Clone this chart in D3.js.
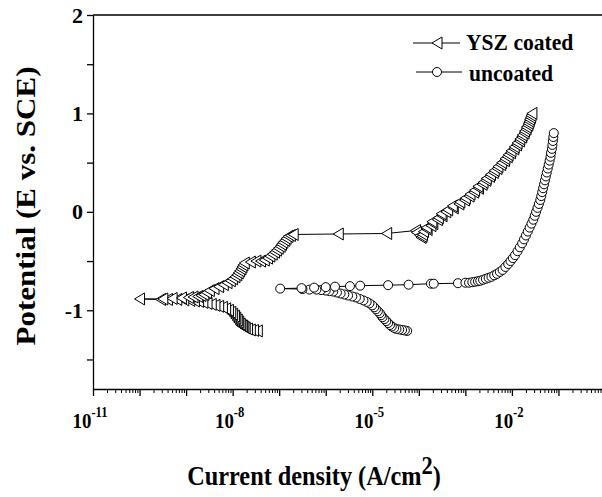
<!DOCTYPE html>
<html>
<head>
<meta charset="utf-8">
<script src="https://cdn.jsdelivr.net/npm/d3@7"></script>
<style>
body { margin: 0; background: #fff; }
text { font-family: "Liberation Serif", "Times New Roman", serif; font-weight: bold; fill: #000; }
</style>
</head>
<body>
<script>
// YSZ coated: potential (V vs SCE) and current density (A/cm2), in scan order
var yszE = [-1.21,-1.205,-1.20,-1.19,-1.18,-1.17,-1.16,-1.15,-1.14,-1.12,-1.10,-1.08,-1.06,-1.04,-1.02,-1.00,-0.985,-0.97,-0.96,-0.95,
  -0.94,-0.93,-0.92,-0.91,-0.905,-0.90,-0.895,-0.89,-0.89,-0.89,-0.885,
  -0.885,-0.88,-0.875,-0.87,-0.865,-0.86,-0.85,-0.84,-0.82,-0.80,-0.78,-0.76,-0.74,-0.72,-0.70,-0.68,-0.66,-0.64,-0.62,-0.60,
  -0.58,-0.56,-0.54,-0.52,-0.51,-0.50,-0.50,-0.49,-0.47,-0.45,-0.43,-0.41,-0.39,-0.37,-0.35,-0.33,-0.31,-0.29,-0.27,-0.25,
  -0.24,-0.23,-0.225,-0.22,-0.19,-0.21,-0.24,-0.26,-0.25,-0.23,-0.20,-0.18,-0.16,-0.14,-0.12,-0.10,-0.08,-0.06,-0.04,-0.02,
  0.00,0.02,0.04,0.06,0.08,0.10,0.12,0.14,0.16,0.18,0.20,0.22,0.24,0.26,0.28,0.30,0.32,0.34,0.36,0.38,
  0.40,0.42,0.44,0.46,0.48,0.50,0.52,0.54,0.56,0.58,0.60,0.62,0.64,0.66,0.68,0.70,0.72,0.74,0.76,0.78,
  0.80,0.82,0.84,0.86,0.88,0.90,0.92,0.94,0.96,0.98,1.00];
var yszI = [3.39e-8,2.82e-8,2.40e-8,2.09e-8,1.86e-8,1.74e-8,1.62e-8,1.51e-8,1.45e-8,1.35e-8,1.26e-8,1.17e-8,1.10e-8,1.00e-8,9.12e-9,8.13e-9,7.08e-9,6.03e-9,5.01e-9,4.17e-9,
  3.47e-9,2.82e-9,2.29e-9,1.86e-9,1.51e-9,1.20e-9,8.91e-10,6.31e-10,3.98e-10,2.82e-10,1.0e-10,
  3.16e-10,5.01e-10,7.94e-10,1.12e-9,1.41e-9,1.78e-9,2.09e-9,2.40e-9,2.75e-9,3.16e-9,3.98e-9,5.01e-9,6.31e-9,7.59e-9,8.91e-9,1.00e-8,1.12e-8,1.23e-8,1.32e-8,1.41e-8,
  1.51e-8,1.58e-8,1.66e-8,1.78e-8,2.40e-8,3.16e-8,3.98e-8,4.79e-8,5.62e-8,6.31e-8,7.08e-8,7.94e-8,8.71e-8,9.55e-8,1.05e-7,1.12e-7,1.20e-7,1.32e-7,1.41e-7,1.55e-7,
  1.74e-7,2.00e-7,1.86e-6,2.04e-5,8.51e-5,8.91e-5,1.05e-4,1.12e-4,1.17e-4,1.20e-4,1.26e-4,1.51e-4,1.45e-4,1.82e-4,2.00e-4,1.91e-4,2.51e-4,2.63e-4,3.16e-4,3.02e-4,
  3.80e-4,4.17e-4,5.50e-4,5.25e-4,7.24e-4,7.59e-4,9.55e-4,1.00e-3,1.20e-3,1.26e-3,1.51e-3,1.58e-3,1.91e-3,1.86e-3,2.29e-3,2.40e-3,2.75e-3,2.82e-3,3.31e-3,3.47e-3,
  3.98e-3,4.17e-3,4.79e-3,5.01e-3,5.75e-3,6.03e-3,6.92e-3,7.08e-3,7.94e-3,8.32e-3,9.33e-3,9.55e-3,1.10e-2,1.12e-2,1.26e-2,1.29e-2,1.45e-2,1.48e-2,1.62e-2,1.66e-2,
  1.82e-2,1.86e-2,2.00e-2,2.04e-2,2.19e-2,2.24e-2,2.34e-2,2.40e-2,2.51e-2,2.57e-2,2.69e-2];

// uncoated
var uncE = [-1.21,-1.205,-1.20,-1.195,-1.19,-1.18,-1.165,-1.15,-1.13,-1.11,-1.09,-1.07,-1.05,-1.03,-1.01,-0.99,-0.97,-0.95,-0.93,-0.915,
  -0.90,-0.885,-0.87,-0.86,-0.85,-0.84,-0.83,-0.82,-0.81,-0.805,-0.80,-0.795,-0.79,-0.79,-0.785,-0.78,
  -0.775,-0.77,-0.765,-0.76,-0.755,-0.75,-0.745,-0.74,-0.73,-0.73,-0.725,-0.72,-0.72,-0.715,-0.71,-0.705,-0.70,-0.69,-0.68,-0.67,
  -0.66,-0.645,-0.63,-0.61,-0.59,-0.56,-0.53,-0.50,-0.47,-0.44,-0.40,-0.36,-0.32,-0.28,-0.24,-0.20,-0.16,-0.12,-0.08,-0.04,
  0.00,0.04,0.08,0.12,0.16,0.20,0.24,0.28,0.32,0.36,0.40,0.44,0.48,0.52,0.56,0.60,0.64,0.68,0.72,0.76,0.80];
var uncI = [5.62e-5,5.01e-5,4.37e-5,3.80e-5,3.31e-5,2.95e-5,2.63e-5,2.40e-5,2.19e-5,2.00e-5,1.82e-5,1.66e-5,1.55e-5,1.45e-5,1.32e-5,1.20e-5,1.10e-5,1.00e-5,8.71e-6,7.59e-6,
  6.46e-6,5.37e-6,4.47e-6,3.72e-6,3.02e-6,2.51e-6,2.09e-6,1.74e-6,1.45e-6,1.20e-6,1.00e-6,7.94e-7,6.31e-7,4.47e-7,3.16e-7,1.05e-7,
  3.02e-7,5.62e-7,1.00e-6,1.58e-6,3.31e-6,5.50e-6,2.19e-5,6.03e-5,1.82e-4,2.09e-4,6.92e-4,1.00e-3,1.20e-3,1.41e-3,1.62e-3,1.86e-3,2.09e-3,2.40e-3,2.75e-3,3.16e-3,
  3.63e-3,4.17e-3,4.79e-3,5.50e-3,6.31e-3,7.24e-3,8.32e-3,9.33e-3,1.05e-2,1.17e-2,1.32e-2,1.48e-2,1.66e-2,1.82e-2,2.00e-2,2.19e-2,2.40e-2,2.63e-2,2.88e-2,3.09e-2,
  3.31e-2,3.55e-2,3.80e-2,4.07e-2,4.27e-2,4.47e-2,4.68e-2,4.90e-2,5.13e-2,5.37e-2,5.62e-2,5.89e-2,6.17e-2,6.46e-2,6.76e-2,6.92e-2,7.24e-2,7.41e-2,7.59e-2,7.76e-2,7.94e-2];

var xLabelExps = [-11, -8, -5, -2];
var yLabels = [-1, 0, 1, 2];
var seriesNames = ["YSZ coated", "uncoated"];

var width = 602, height = 497;
var squeeze = 0.9; // text in the figure is a bit narrow
var svg = d3.select("body").append("svg")
    .attr("width", width)
    .attr("height", height);

var x = d3.scaleLog().domain([1e-11, 1]).range([93, 605]);
var y = d3.scaleLinear().domain([-1.8, 2]).range([389, 15]);

// x axis: major decade ticks + minor ticks
var majors = d3.range(-11, 1).map(function(e){ return Math.pow(10, e); });
var minors = [];
d3.range(-11, 0).forEach(function(e){
    d3.range(2, 10).forEach(function(k){ minors.push(k * Math.pow(10, e)); });
});

svg.append("g")
    .attr("transform", "translate(0,389)")
    .call(d3.axisBottom(x).tickValues(minors).tickSize(4).tickFormat(""))
    .call(function(g){ g.select(".domain").remove(); });
svg.append("g")
    .attr("transform", "translate(0,389)")
    .call(d3.axisBottom(x).tickValues(majors).tickSize(7).tickSizeOuter(0).tickFormat(""))
    .call(function(g){ g.selectAll("path,line").attr("stroke-width", 1.3); });

var xl = svg.append("g").selectAll("text")
    .data(xLabelExps).enter().append("text")
    .attr("transform", function(d){ return "translate(" + (x(Math.pow(10, d)) - 3) + ",428) scale(" + squeeze + ",1)"; })
    .attr("text-anchor", "middle")
    .style("font-size", "21px");
xl.append("tspan").text("10");
xl.append("tspan").attr("dy", -11).style("font-size", "14px").text(function(d){ return d; });

// y axis
svg.append("g")
    .attr("transform", "translate(93,0)")
    .call(d3.axisLeft(y).tickValues([-1.5, -1, -0.5, 0, 0.5, 1, 1.5, 2]).tickSize(6).tickSizeOuter(0)
        .tickPadding(4)
        .tickFormat(function(d){ return yLabels.indexOf(d) >= 0 ? d : ""; }))
    .call(function(g){
        g.attr("font-family", null).attr("font-size", null);
        g.selectAll("path,line").attr("stroke-width", 1.3);
        g.selectAll("text").style("font-size", "22px");
    });

// top frame line
svg.append("line")
    .attr("x1", 93).attr("x2", width)
    .attr("y1", 15).attr("y2", 15)
    .attr("stroke", "#000").attr("stroke-width", 1.5);

// titles
var xt = svg.append("text")
    .attr("transform", "translate(314,485) scale(" + squeeze + ",1)")
    .attr("text-anchor", "middle")
    .style("font-size", "27px");
xt.append("tspan").text("Current density (A/cm");
xt.append("tspan").attr("dy", -11).style("font-size", "25px").text("2");
xt.append("tspan").attr("dy", 11).text(")");

svg.append("text")
    .attr("transform", "translate(35,206) rotate(-90) scale(1," + squeeze + ")")
    .attr("text-anchor", "middle")
    .style("font-size", "31px")
    .text("Potential (E vs. SCE)");

// series
var triPath = "M-5,0L5,-6L5,6Z";
var line = d3.line()
    .x(function(d){ return x(d.i); })
    .y(function(d){ return y(d.e); });

var ysz = yszE.map(function(e, k){ return {e: e, i: yszI[k]}; });
var unc = uncE.map(function(e, k){ return {e: e, i: uncI[k]}; });

svg.append("path").datum(unc)
    .attr("d", line).attr("fill", "none").attr("stroke", "#000").attr("stroke-width", 1);
svg.append("g").selectAll("circle")
    .data(unc).enter().append("circle")
    .attr("cx", function(d){ return x(d.i); })
    .attr("cy", function(d){ return y(d.e); })
    .attr("r", 4.5)
    .attr("fill", "#fff").attr("stroke", "#000").attr("stroke-width", 1);

svg.append("path").datum(ysz)
    .attr("d", line).attr("fill", "none").attr("stroke", "#000").attr("stroke-width", 1);
svg.append("g").selectAll("path")
    .data(ysz).enter().append("path")
    .attr("d", triPath)
    .attr("transform", function(d){ return "translate(" + x(d.i) + "," + y(d.e) + ")"; })
    .attr("fill", "#fff").attr("stroke", "#000").attr("stroke-width", 1);

// legend
var leg = svg.append("g");
leg.append("line").attr("x1", 413).attr("x2", 460).attr("y1", 43).attr("y2", 43).attr("stroke", "#000");
leg.append("path").attr("d", triPath).attr("transform", "translate(437,43)")
    .attr("fill", "#fff").attr("stroke", "#000");
leg.append("text").attr("transform", "translate(466,50) scale(" + squeeze + ",1)")
    .style("font-size", "24px").text(seriesNames[0]);
leg.append("line").attr("x1", 416).attr("x2", 462).attr("y1", 72).attr("y2", 72).attr("stroke", "#000");
leg.append("circle").attr("cx", 437).attr("cy", 72).attr("r", 4.5)
    .attr("fill", "#fff").attr("stroke", "#000");
leg.append("text").attr("transform", "translate(469,81) scale(" + squeeze + ",1)")
    .style("font-size", "24px").text(seriesNames[1]);
</script>
</body>
</html>
